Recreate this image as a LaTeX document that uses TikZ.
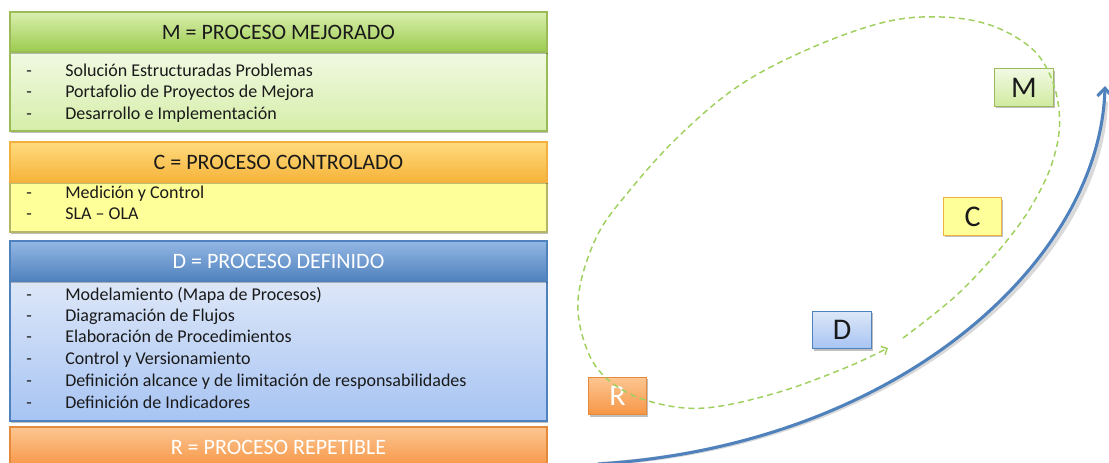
\documentclass[tikz,border=0pt]{standalone}
\usepackage{fontspec}
\setmainfont{Carlito}
\usetikzlibrary{shadows,arrows.meta}
\definecolor{txt}{HTML}{1A1A1A}
\definecolor{gBord}{HTML}{9BBB59}
\definecolor{gTop}{HTML}{D9EFAE}
\definecolor{gBot}{HTML}{9CCB4E}
\definecolor{gBodyTop}{HTML}{F1F9E3}
\definecolor{gBodyBot}{HTML}{D6EEA9}
\definecolor{cBord}{HTML}{F2B13E}
\definecolor{cTop}{HTML}{FFDB7E}
\definecolor{cBot}{HTML}{F6B33A}
\definecolor{cBody}{HTML}{FFFF99}
\definecolor{cBodyBord}{HTML}{B5B56A}
\definecolor{bBord}{HTML}{4F81BD}
\definecolor{bTop}{HTML}{93B7E4}
\definecolor{bBot}{HTML}{4F81BD}
\definecolor{bBodyTop}{HTML}{DDE7F8}
\definecolor{bBodyBot}{HTML}{A7C4F3}
\definecolor{rBord}{HTML}{E58A3B}
\definecolor{rTop}{HTML}{FCC692}
\definecolor{rBot}{HTML}{F79646}
\definecolor{dashG}{HTML}{9FD05E}
\definecolor{arrB}{HTML}{4F81BD}
\newcommand{\myitem}[1]{\makebox[29.25pt][l]{-}#1}
\begin{document}
\begin{tikzpicture}[x=0.75pt,y=-0.75pt,
  box/.style={draw, line width=0.9pt, inner sep=0, outer sep=0,
    drop shadow={shadow xshift=1pt, shadow yshift=-1.5pt, opacity=0.25, fill=black}},
  wide/.style={box, minimum width=402.75pt},
  hdr/.style={wide, minimum height=30pt, font=\fontsize{16.5}{19}\selectfont},
  itemtext/.style={anchor=west, inner sep=0, font=\fontsize{13.5}{16}\selectfont,
    text height=9.5pt, text depth=2.5pt, text=txt},
  letter/.style={box, minimum width=44pt, minimum height=28pt, font=\fontsize{22.5}{26}\selectfont}]
\useasboundingbox (0,0) rectangle (1109,463);
\clip (0,0) rectangle (1109,463);

% ---- M block
\node[wide, minimum height=59.25pt, draw=gBord, top color=gBodyTop, bottom color=gBodyBot] (mbody) at (278.5,91.5) {};
\node[hdr, draw=gBord, top color=gTop, bottom color=gBot, text=txt] (mhead) at (278.5,32) {M = PROCESO MEJORADO};
\node[itemtext] (m1) at (26,72) {\myitem{Solución Estructuradas Problemas}};
\node[itemtext] (m2) at (26,93) {\myitem{Portafolio de Proyectos de Mejora}};
\node[itemtext] (m3) at (26,115) {\myitem{Desarrollo e Implementación}};

% ---- C block
\node[wide, minimum height=37.5pt, draw=cBodyBord, fill=cBody] (cbody) at (278.5,207) {};
\node[hdr, draw=cBord, top color=cTop, bottom color=cBot, text=txt] (chead) at (278.5,162) {C = PROCESO CONTROLADO};
\node[itemtext] (c1) at (26,194) {\myitem{Medición y Control}};
\node[itemtext] (c2) at (26,215) {\myitem{SLA – OLA}};

% ---- D block
\node[wide, minimum height=105pt, draw=bBord, top color=bBodyTop, bottom color=bBodyBot] (dbody) at (278.5,351) {};
\node[hdr, draw=bBord, top color=bTop, bottom color=bBot, text=white] (dhead) at (278.5,261) {D = PROCESO DEFINIDO};
\node[itemtext] (d1) at (26,296) {\myitem{Modelamiento (Mapa de Procesos)}};
\node[itemtext] (d2) at (26,317) {\myitem{Diagramación de Flujos}};
\node[itemtext] (d3) at (26,338) {\myitem{Elaboración de Procedimientos}};
\node[itemtext] (d4) at (26,360) {\myitem{Control y Versionamiento}};
\node[itemtext] (d5) at (26,382) {\myitem{Definición alcance y de limitación de responsabilidades}};
\node[itemtext] (d6) at (26,404) {\myitem{Definición de Indicadores}};

% ---- R block
\node[hdr, draw=rBord, top color=rTop, bottom color=rBot, text=white] (rhead) at (278.5,447) {R = PROCESO REPETIBLE};

% ---- letter boxes
\node[letter, draw=gBord, top color=gBodyTop, bottom color=gBodyBot!90!gBot, text=txt] (M) at (1024,87.5) {M};
\node[letter, draw=cBord, fill=cBody, text=txt] (C) at (972.5,216.5) {C};
\node[letter, draw=bBord, top color=bBodyTop, bottom color=bBodyBot, text=txt] (D) at (842,330) {D};
\node[letter, draw=rBord, top color=rTop, bottom color=rBot, text=white] (R) at (617.5,396) {R};

% ---- blue arrow
\coordinate (bstart) at (598,464);
\coordinate (bend) at (1105,86);
\draw[black, opacity=0.15, line width=3pt, shift={(1,1.5)}] (bstart) .. controls (900,445) and (1100,260) .. (1105,100);
\draw[arrB, line width=2.3pt, -{Straight Barb[length=6pt,width=11pt]}] (bstart) .. controls (900,445) and (1100,260) .. (bend);

% ---- green dashed loop
\draw[dashG, line width=1.1pt, dash pattern=on 4.5pt off 3pt, -{Straight Barb[length=3.5pt,width=7pt]}]
  plot[smooth, tension=0.6] coordinates {
  (903,338) (960,292) (1013,233) (1043,185) (1057,145) (1059,110) (1050,75) (1030,47)
  (990,25) (941,17) (885,22) (811,48) (740,85) (680,135) (630,190) (596,238) (578,300)
  (588,352) (612,383) (652,402) (705,408) (776,393) (845,368) (888,348)};
\end{tikzpicture}
\end{document}
